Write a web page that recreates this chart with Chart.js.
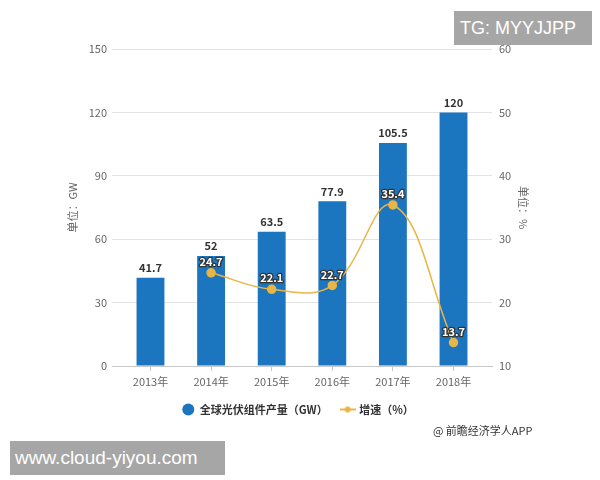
<!DOCTYPE html>
<html>
<head>
<meta charset="utf-8">
<script src="https://cdn.jsdelivr.net/npm/chart.js@4"></script>
<style>
  body { margin: 0; background: #fff; }
  #wrap { position: relative; width: 600px; height: 480px; }
  .tag { position: absolute; background: #a6a6a6; color: #fff; font-family: "Liberation Sans", Arial, sans-serif; height: 34px; line-height: 34px; box-sizing: border-box; }
  .src { position: absolute; left: 433px; top: 423px; font: 11px "Noto Sans CJK SC", sans-serif; color: #333; line-height: 14px; }
</style>
</head>
<body>
<div id="wrap">
  <canvas id="chart" width="600" height="480"></canvas>
  <div class="tag" style="left:454px; top:11px; width:138px; font-size:18px; padding-left:6px;">TG: MYYJJPP</div>
  <div class="tag" style="left:10px; top:441px; width:215px; font-size:19px; padding-left:5px;">www.cloud-yiyou.com</div>
  <div class="src">@ 前瞻经济学人APP</div>
</div>
<script>
const years = ["2013年", "2014年", "2015年", "2016年", "2017年", "2018年"];
const output = [41.7, 52, 63.5, 77.9, 105.5, 120];      // 全球光伏组件产量 (GW)
const growth = [null, 24.7, 22.1, 22.7, 35.4, 13.7];    // 增速 (%)
const leftTicks = [0, 30, 60, 90, 120, 150];
const rightTicks = [10, 20, 30, 40, 50, 60];

const blue = "#1b75bf";
const gold = "#e8b547";
const font = '"Noto Sans CJK SC", sans-serif';

// legend icon for the line series: short line with a dot
const lineIcon = document.createElement("canvas");
lineIcon.width = 16;
lineIcon.height = 8;
(function () {
  const c = lineIcon.getContext("2d");
  c.strokeStyle = gold;
  c.lineWidth = 2;
  c.beginPath();
  c.moveTo(0, 4);
  c.lineTo(16, 4);
  c.stroke();
  c.fillStyle = gold;
  c.beginPath();
  c.arc(8, 4, 3, 0, Math.PI * 2);
  c.fill();
})();

const valueLabels = {
  id: "valueLabels",
  afterDatasetsDraw(chart) {
    const ctx = chart.ctx;
    ctx.save();
    ctx.font = "bold 11px " + font;
    ctx.textAlign = "center";
    ctx.textBaseline = "middle";
    chart.getDatasetMeta(0).data.forEach((bar, i) => {
      ctx.fillStyle = "#333";
      ctx.fillText(output[i], bar.x, bar.y - 10);
    });
    chart.getDatasetMeta(1).data.forEach((pt, i) => {
      if (growth[i] == null) return;
      ctx.lineJoin = "round";
      ctx.lineWidth = 2.5;
      ctx.strokeStyle = "#333";
      ctx.strokeText(growth[i], pt.x, pt.y - 11);
      ctx.fillStyle = "#fff";
      ctx.fillText(growth[i], pt.x, pt.y - 11);
    });
    ctx.restore();
  },
};

Chart.defaults.font.family = font;
Chart.defaults.font.size = 11;
Chart.defaults.color = "#666";

new Chart(document.getElementById("chart"), {
  data: {
    datasets: [
      {
        type: "bar",
        label: "全球光伏组件产量（GW）",
        data: output.map((v, i) => ({ x: i, y: v })),
        backgroundColor: blue,
        borderWidth: 0,
        categoryPercentage: 1,
        barPercentage: 0.46,
        yAxisID: "y",
        order: 1,
      },
      {
        type: "line",
        label: "增速（%）",
        data: growth.map((v, i) => ({ x: i, y: v })),
        borderColor: gold,
        backgroundColor: gold,
        borderWidth: 1.5,
        pointRadius: 4,
        pointBackgroundColor: gold,
        pointBorderColor: gold,
        tension: 0.4,
        yAxisID: "y1",
        order: 0,
      },
    ],
  },
  options: {
    responsive: false,
    animation: false,
    layout: { padding: { left: 60, right: 64, top: 49, bottom: 55 } },
    plugins: {
      tooltip: { enabled: false },
      legend: {
        position: "bottom",
        labels: {
          usePointStyle: true,
          pointStyleWidth: 12,
          boxHeight: 8.5,
          padding: 14,
          color: "#333",
          font: { size: 11, weight: "bold" },
          sort: (a, b) => a.datasetIndex - b.datasetIndex,
          generateLabels(chart) {
            const items = Chart.defaults.plugins.legend.labels.generateLabels(chart);
            items.forEach((it) => {
              if (it.datasetIndex === 0) {
                it.pointStyle = "circle";
                it.lineWidth = 0;
              } else {
                it.pointStyle = lineIcon;
              }
            });
            return items;
          },
        },
      },
    },
    scales: {
      x: {
        type: "linear",
        position: "bottom",
        offset: false,
        min: -0.635,
        max: 5.635,
        afterBuildTicks: (s) => { s.ticks = years.map((_, i) => ({ value: i })); },
        afterFit: (s) => { s.height = 24; },
        grid: { offset: false, drawOnChartArea: false, drawTicks: true, tickLength: 5, color: "#c8c8c8" },
        border: { color: "#c8c8c8" },
        ticks: {
          padding: 4,
          autoSkip: false,
          maxRotation: 0,
          callback: (v) => years[v],
        },
      },
      y: {
        position: "left",
        min: 0,
        max: 150,
        afterBuildTicks: (s) => { s.ticks = leftTicks.map((v) => ({ value: v })); },
        afterFit: (s) => { s.width = 52; },
        grid: { color: "#e3e3e3", drawTicks: false },
        border: { display: false },
        ticks: { padding: 5 },
        title: { display: true, text: "单位：GW", padding: { top: 6, bottom: 0 } },
      },
      y1: {
        position: "right",
        min: 10,
        max: 60,
        afterBuildTicks: (s) => { s.ticks = rightTicks.map((v) => ({ value: v })); },
        afterFit: (s) => { s.width = 44; },
        grid: { drawOnChartArea: false, drawTicks: false },
        border: { display: false },
        ticks: { padding: 7 },
        title: { display: true, text: "单位：%", padding: { top: 6, bottom: 0 } },
      },
    },
  },
  plugins: [valueLabels],
});
</script>
</body>
</html>
